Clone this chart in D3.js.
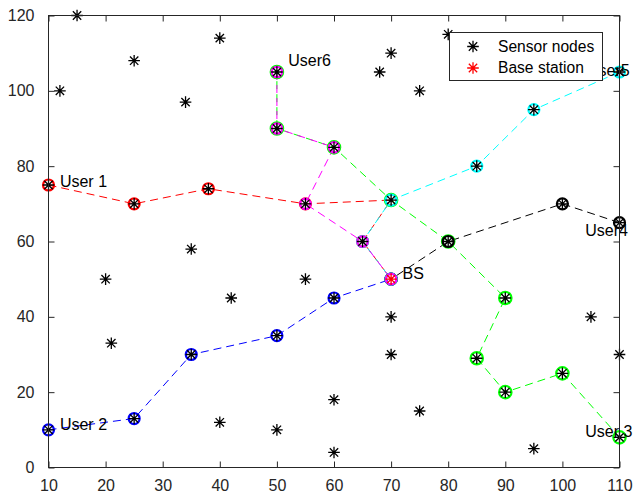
<!DOCTYPE html>
<html><head><meta charset="utf-8">
<script src="https://cdn.jsdelivr.net/npm/d3@7"></script>
<style>body{margin:0;background:#fff}svg{display:block}</style>
</head><body>
<svg id="chart" width="641" height="496"></svg>
<script>
// ---------- data ----------
const xTicks = [10,20,30,40,50,60,70,80,90,100,110];
const yTicks = [0,20,40,60,80,100,120];

const sensorNodes = [
  [15,120],[12,100],[25,108],[34,97],[40,114],[35,58],[20,50],[21,33],[42,45],
  [40,12],[50,10],[55,50],[60,18],[60,4],[70,40],[70,30],[75,15],[68,105],
  [70,110],[75,100],[80,115],[95,5],[105,40],[110,30],
  [10,75],[25,70],[38,74],[55,70],[70,71],[65,60],[60,85],[50,90],[50,105],
  [85,80],[95,95],[110,105],[100,70],[110,65],[80,60],[90,45],[85,29],[90,20],
  [100,25],[110,8],[10,10],[25,13],[35,30],[50,35],[60,45]
];
const baseStation = [[70,50]];

const routeUser1 = [[10,75],[25,70],[38,74],[55,70],[70,71],[65,60],[70,50]];
const routeUser2 = [[10,10],[25,13],[35,30],[50,35],[60,45],[70,50]];
const routeUser3 = [[110,8],[100,25],[90,20],[85,29],[90,45],[80,60],[70,71],[60,85],[50,90],[50,105]];
const routeUser4 = [[110,65],[100,70],[80,60],[70,50]];
const routeUser5 = [[110,105],[95,95],[85,80],[70,71],[65,60],[70,50]];
const routeUser6 = [[50,105],[50,90],[60,85],[55,70],[65,60],[70,50]];

const labelNames = ["User 1","User 2","User 3","User4","User5","User6","BS"];
const labelX = [12,12,104,104,104.3,52,72];
const labelY = [76,11.5,9.5,63,105.5,108,51.5];

const legendNames = ["Sensor nodes","Base station"];

// ---------- layout ----------
const FONT = "'Liberation Sans', Arial, Helvetica, sans-serif";
const AX = "#262626";
const m = {left:48.5, top:15.5, right:619.5, bottom:467.5};
const svg = d3.select("#chart");
const x = d3.scaleLinear().domain([10,110]).range([m.left, m.right]);
const y = d3.scaleLinear().domain([0,120]).range([m.bottom, m.top]);

const routes = [
  {pts:routeUser1, color:"#ff0000", r:5.5},
  {pts:routeUser2, color:"#0000ff", r:5.5},
  {pts:routeUser3, color:"#00ff00", r:6.2},
  {pts:routeUser4, color:"#000000", r:5.5},
  {pts:routeUser5, color:"#00ffff", r:5.5},
  {pts:routeUser6, color:"#ff00ff", r:5.2}
];

const line = d3.line().x(d=>x(d[0])).y(d=>y(d[1]));
const plot = svg.append("g");

routes.forEach(rt=>{
  plot.append("path").attr("d", line(rt.pts)).attr("fill","none")
    .attr("stroke", rt.color).attr("stroke-width",1).attr("stroke-dasharray","8,5");
});
routes.forEach(rt=>{
  plot.selectAll(null).data(rt.pts).enter().append("circle")
    .attr("cx",d=>x(d[0])).attr("cy",d=>y(d[1])).attr("r",rt.r)
    .attr("fill","none").attr("stroke",rt.color).attr("stroke-width",2.2);
});

function starPath(s){
  const d = s*0.72;
  return `M${-s},0L${s},0M0,${-s}L0,${s}M${-d},${-d}L${d},${d}M${-d},${d}L${d},${-d}`;
}
plot.selectAll(null).data(sensorNodes).enter().append("path")
  .attr("transform",d=>`translate(${x(d[0])},${y(d[1])})`)
  .attr("d",starPath(5.8)).attr("stroke","#000").attr("stroke-width",1.3).attr("fill","none");
plot.selectAll(null).data(baseStation).enter().append("path")
  .attr("transform",d=>`translate(${x(d[0])},${y(d[1])})`)
  .attr("d",starPath(5.8)).attr("stroke","#ff0000").attr("stroke-width",1.3).attr("fill","none");

// labels
plot.selectAll(null).data(labelNames).enter().append("text")
  .attr("x",(d,i)=>x(labelX[i])).attr("y",(d,i)=>y(labelY[i]))
  .attr("dy","0.35em").attr("font-family",FONT).attr("font-size",16)
  .attr("fill","#000").text(d=>d);

// axes
const gx = svg.append("g").attr("transform",`translate(0,${m.bottom})`)
  .call(d3.axisBottom(x).tickValues(xTicks).tickSize(-6).tickPadding(12).tickFormat(d3.format("d")));
const gxt = svg.append("g").attr("transform",`translate(0,${m.top})`)
  .call(d3.axisTop(x).tickValues(xTicks).tickSize(-6).tickFormat(""));
const gy = svg.append("g").attr("transform",`translate(${m.left},0)`)
  .call(d3.axisLeft(y).tickValues(yTicks).tickSize(-6).tickPadding(14).tickFormat(d3.format("d")));
const gyr = svg.append("g").attr("transform",`translate(${m.right},0)`)
  .call(d3.axisRight(y).tickValues(yTicks).tickSize(-6).tickFormat(""));
[gx,gxt,gy,gyr].forEach(g=>{
  g.select(".domain").remove();
  g.selectAll(".tick line").attr("stroke",AX);
  g.selectAll("text").attr("font-family",FONT).attr("font-size",16).attr("fill",AX);
});
svg.append("rect").attr("x",m.left).attr("y",m.top)
  .attr("width",m.right-m.left).attr("height",m.bottom-m.top)
  .attr("fill","none").attr("stroke",AX).attr("stroke-width",1);

// legend
const lg = svg.append("g");
lg.append("rect").attr("x",449.5).attr("y",32.5).attr("width",153).attr("height",48)
  .attr("fill","#fff").attr("stroke",AX).attr("stroke-width",1);
const legColors = ["#000000","#ff0000"];
legendNames.forEach((name,i)=>{
  const cy = 46.5 + i*21.5;
  lg.append("path").attr("transform",`translate(473,${cy})`).attr("d",starPath(5.8))
    .attr("stroke",legColors[i]).attr("stroke-width",1.3).attr("fill","none");
  lg.append("text").attr("x",498).attr("y",cy).attr("dy","0.35em")
    .attr("font-family",FONT).attr("font-size",15.6).attr("fill","#000").text(name);
});
</script>
</body></html>
